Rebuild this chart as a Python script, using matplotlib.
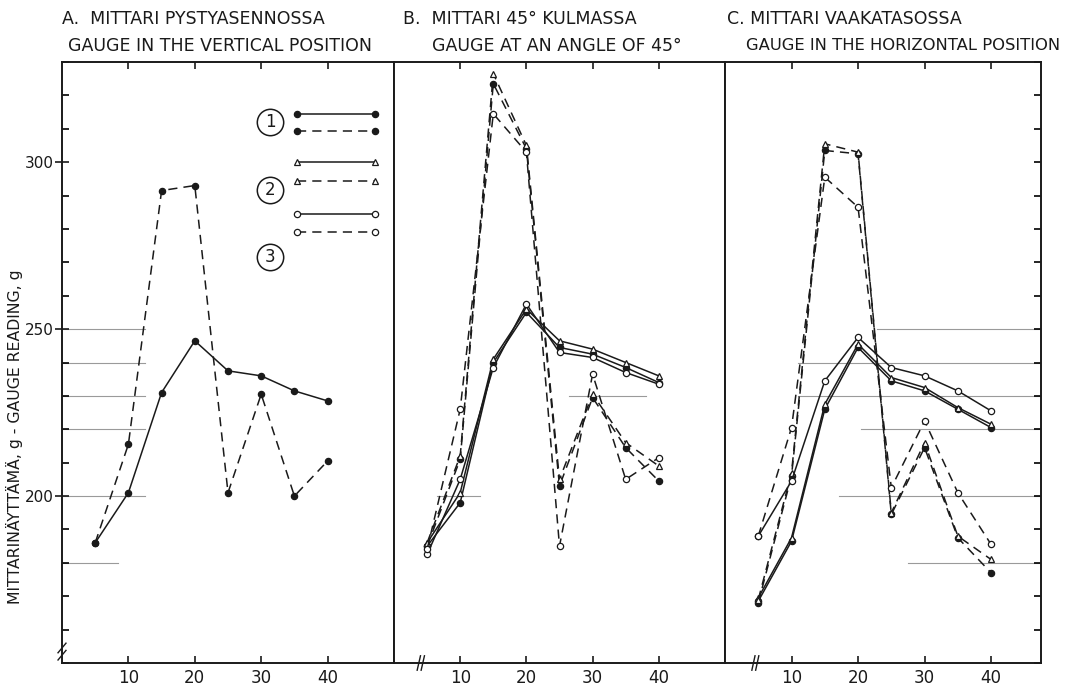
import numpy as np
import matplotlib
matplotlib.use('Agg')
import matplotlib.pyplot as plt
from matplotlib.ticker import MultipleLocator, FixedLocator

plt.rcParams['font.family'] = ['DejaVu Sans']

#### data ####
x_vals = [5, 10, 15, 20, 25, 30, 35, 40]

# panel A : only gauge 1
a_solid_1 = [186, 201, 231, 246.5, 237.5, 236, 231.5, 228.5]
a_dash_1 = [186, 215.5, 291.5, 293, 201, 230.5, 200, 210.5]

# panel B : 45 degrees
b_solid_1 = [185, 198, 240, 255, 244.5, 242.5, 238.5, 234]
b_solid_2 = [186, 201, 241, 256, 246.5, 244, 240, 236]
b_solid_3 = [182.5, 205, 238.5, 257.5, 243, 241.5, 237, 233.5]
b_dash_1 = [185, 211, 323.5, 304, 203, 229.5, 214.5, 204.5]
b_dash_2 = [186, 212, 326.5, 305, 205, 230.5, 216, 209]
b_dash_3 = [184, 226, 314.5, 303, 185, 236.5, 205, 211.5]

# panel C : horizontal
c_solid_1 = [168.5, 186.5, 226, 244.5, 234.5, 231.5, 226, 220.5]
c_solid_2 = [169.5, 187.5, 227.5, 245.5, 235.5, 232.5, 226.5, 221.5]
c_solid_3 = [188, 204.5, 234.5, 247.5, 238.5, 236, 231.5, 225.5]
c_dash_1 = [168, 206, 303.5, 302.5, 194.5, 214.5, 187.5, 177]
c_dash_2 = [169, 207, 305.5, 303, 195, 216, 188, 181]
c_dash_3 = [188, 220.5, 295.5, 286.5, 202.5, 222.5, 201, 185.5]

titles = [("A.  MITTARI PYSTYASENNOSSA", "GAUGE IN THE VERTICAL POSITION"),
          ("B.  MITTARI 45° KULMASSA", "GAUGE AT AN ANGLE OF 45°"),
          ("C. MITTARI VAAKATASOSSA", "GAUGE IN THE HORIZONTAL POSITION")]
ylabel = "MITTARINÄYTTÄMÄ, g - GAUGE READING, g"
legend_nums = ["1", "2", "3"]

#### styles ####
ink = '#1a1a1a'
marker_style = {1: dict(marker='o', mfc=ink, mec=ink),
                2: dict(marker='^', mfc='white', mec=ink),
                3: dict(marker='o', mfc='white', mec=ink)}
dash = (0, (6, 4))

fig = plt.figure(figsize=(10.82, 6.87), dpi=100)
W, H = 1082.0, 687.0
bottom = 1 - 663 / H
height = (663 - 62) / H
axA = fig.add_axes([62 / W, bottom, 332 / W, height])
axB = fig.add_axes([394 / W, bottom, 331 / W, height])
axC = fig.add_axes([725 / W, bottom, 316 / W, height])
xlims = [(0, 50), (0, 50), (0, 47.5)]


def draw(ax, ys, idx, dashed):
    ax.plot(x_vals, ys, color=ink, lw=1.1, ms=4.5, mew=0.9,
            linestyle=dash if dashed else '-', **marker_style[idx])


draw(axA, a_solid_1, 1, False)
draw(axA, a_dash_1, 1, True)
for i, (s, d) in enumerate([(b_solid_1, b_dash_1), (b_solid_2, b_dash_2),
                            (b_solid_3, b_dash_3)], start=1):
    draw(axB, s, i, False)
    draw(axB, d, i, True)
for i, (s, d) in enumerate([(c_solid_1, c_dash_1), (c_solid_2, c_dash_2),
                            (c_solid_3, c_dash_3)], start=1):
    draw(axC, s, i, False)
    draw(axC, d, i, True)

# faint ruled lines of the paper
paper = {axA: [(250, 0, 0.25), (240, 0, 0.25), (230, 0, 0.25), (220, 0, 0.25),
               (200, 0, 0.25), (180, 0, 0.17)],
         axB: [(230, 0.53, 0.76), (200, 0.13, 0.26)],
         axC: [(250, 0.48, 1), (240, 0.23, 1), (230, 0.23, 1), (220, 0.43, 1),
               (200, 0.36, 1), (180, 0.58, 1)]}
for ax, rows in paper.items():
    for yv, x0, x1 in rows:
        ax.axhline(yv, x0, x1, color='#9a9a9a', lw=0.8, zorder=0)

title_x1 = [0.0, 0.027, 0.006]
title_x2 = [0.018, 0.115, 0.066]
title_fs2 = [12.5, 12.5, 11.8]
for k, ax in enumerate([axA, axB, axC]):
    ax.set_xlim(*xlims[k])
    ax.set_ylim(150, 330)
    for sp in ax.spines.values():
        sp.set_linewidth(1.4)
        sp.set_color(ink)
    ax.xaxis.set_major_locator(FixedLocator([10, 20, 30, 40]))
    ax.tick_params(axis='x', which='major', direction='in', length=5, width=1.2,
                   top=True, labelsize=12, pad=4, colors=ink)
    ax.yaxis.set_major_locator(FixedLocator([200, 250, 300]))
    ax.yaxis.set_minor_locator(MultipleLocator(10))
    if k == 0:
        ax.tick_params(axis='y', which='major', direction='inout', length=10,
                       width=1.2, labelsize=11, pad=1, colors=ink)
        ax.tick_params(axis='y', which='minor', direction='in', length=5, width=1.2)
        ax.set_ylabel(ylabel, fontsize=11.3, color=ink)
        ax.yaxis.set_label_coords(-0.116, 0.376)
    elif k == 2:
        ax.tick_params(axis='y', which='both', left=False, right=True,
                       direction='in', length=5, width=1.2, labelleft=False)
    else:
        ax.tick_params(axis='y', which='both', left=False, labelleft=False)
    ax.text(title_x1[k], 1.072, titles[k][0], transform=ax.transAxes,
            fontsize=12.5, color=ink, ha='left', va='center')
    ax.text(title_x2[k], 1.027, titles[k][1], transform=ax.transAxes,
            fontsize=title_fs2[k], color=ink, ha='left', va='center')

# axis break marks
for dx in (0.0, 0.012):
    axA.plot([-0.012, 0.012], [0.013 + dx - 0.008, 0.013 + dx + 0.008],
             transform=axA.transAxes, color=ink, lw=1.0, clip_on=False)
for ax, xb in ((axB, 0.075), (axC, 0.09)):
    for dx in (0.0, 0.012):
        ax.plot([xb + dx - 0.005, xb + dx + 0.005], [-0.012, 0.012],
                transform=ax.transAxes, color=ink, lw=1.0, clip_on=False)

# custom legend in panel A
leg_rows = [(0.900, 0.913, 0.885), (0.787, 0.834, 0.802), (0.676, 0.747, 0.717)]
for i, (yc, y1, y2) in enumerate(leg_rows, start=1):
    axA.plot([0.627], [yc], transform=axA.transAxes, marker='o', ms=19,
             mfc='white', mec=ink, mew=1.1, clip_on=False)
    axA.text(0.627, yc, legend_nums[i - 1], transform=axA.transAxes,
             ha='center', va='center', fontsize=12, color=ink)
    axA.plot([0.708, 0.943], [y1, y1], transform=axA.transAxes, color=ink,
             lw=1.1, ms=4.5, mew=0.9, **marker_style[i])
    axA.plot([0.708, 0.943], [y2, y2], transform=axA.transAxes, color=ink,
             lw=1.1, ms=4.5, mew=0.9, linestyle=dash, **marker_style[i])

fig.savefig('out.png', dpi=100, facecolor='white')
